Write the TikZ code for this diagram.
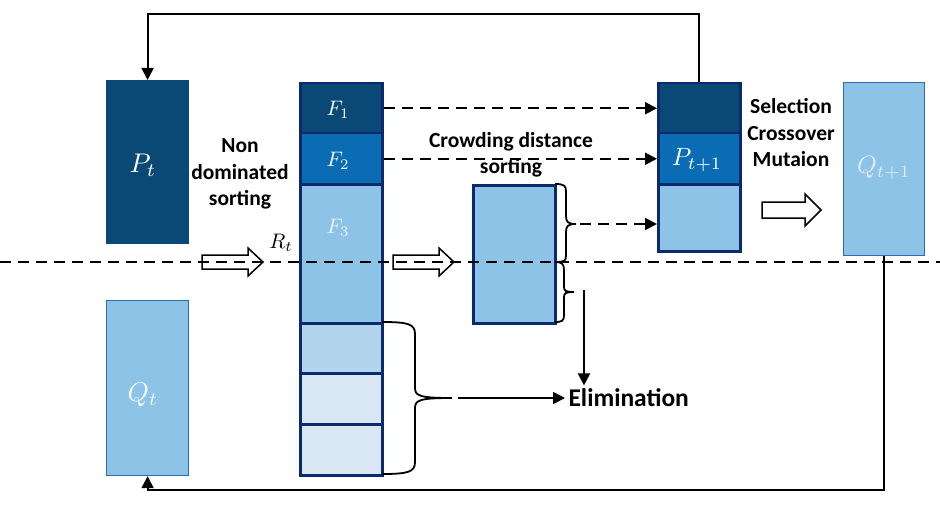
\documentclass[tikz,border=0pt]{standalone}
\usepackage{graphicx}
\usepackage{fontspec}
\setmainfont{Carlito}
\usetikzlibrary{arrows.meta}
\definecolor{navyf}{HTML}{0A4975}
\definecolor{midf}{HTML}{0A6DB3}
\definecolor{lightf}{HTML}{8CC3E7}
\definecolor{lighterf}{HTML}{B2D4ED}
\definecolor{palef}{HTML}{D9E7F5}
\definecolor{navyb}{HTML}{0B2A6E}
\definecolor{qborder}{HTML}{2E6BB0}
\begin{document}
\begin{tikzpicture}[x=1pt,y=-1pt,
  seg/.style={draw=navyb, line width=2.5pt, minimum width=82pt, anchor=north west, inner sep=0pt},
  solo/.style={line width=1.2pt, minimum width=82pt, anchor=north west, inner sep=0pt},
  lab/.style={font=\bfseries\fontsize{21.5}{26.5}\selectfont, align=center, text=black},
  mlab/.style={inner sep=0pt},
  conn/.style={line width=1.8pt, -{Triangle[length=12pt,width=12pt]}},
  dconn/.style={line width=2pt, dash pattern=on 11pt off 7pt, -{Triangle[length=12pt,width=12pt]}},
  hollow/.style={draw=black, line width=1.5pt, line join=miter},
  bracestyle/.style={draw=black, line width=1.8pt}
]
\useasboundingbox (0,0) rectangle (940,516);

% P_t and Q_t
\node[solo, draw=navyf, fill=navyf, minimum height=163pt] (pt) at (106,80) {};
\node[solo, draw=qborder, fill=lightf, minimum height=175pt] (qt) at (106,300) {};
\node[mlab, text=white] (ptl) at (143,165) {\scalebox{2.7}{$P_t$}};
\node[mlab, text=white!90!lightf] (qtl) at (143,395) {\scalebox{2.7}{$Q_t$}};

% R_t stack
\node[seg, fill=navyf, minimum height=50pt] (f1) at (299,82) {};
\node[seg, fill=midf, minimum height=51pt] (f2) at (299,132) {};
\node[seg, fill=lightf, minimum height=139pt] (f3) at (299,183) {};
\node[seg, fill=lighterf, minimum height=50pt] (r4) at (299,322) {};
\node[seg, fill=palef, minimum height=51pt] (r5) at (299,372) {};
\node[seg, fill=palef, minimum height=51pt] (r6) at (299,423) {};
\node[mlab, text=white] (f1l) at (338,110) {\scalebox{2.1}{$F_1$}};
\node[mlab, text=white] (f2l) at (338,161) {\scalebox{2.1}{$F_2$}};
\node[mlab, text=white!85!lightf] (f3l) at (338,228) {\scalebox{2.1}{$F_3$}};
\node[mlab, text=black] (rtl) at (281,243) {\scalebox{2.1}{$R_t$}};

% crowding distance box
\node[seg, fill=lightf, minimum height=138pt] (cd) at (472,184) {};

% P_{t+1} stack
\node[seg, fill=navyf, minimum height=50pt] (pa) at (657,82) {};
\node[seg, fill=midf, minimum height=51pt] (pb) at (657,132) {};
\node[seg, fill=lightf, minimum height=67pt] (pc) at (657,183) {};
\node[mlab, text=white] (pbl) at (697,160) {\scalebox{2.5}{$P_{t+1}$}};

% Q_{t+1}
\node[solo, draw=qborder, fill=lightf, minimum height=173pt, minimum width=81pt] (qt1) at (843,82) {};
\node[mlab, text=palef!80!white] (qt1l) at (884,168) {\scalebox{2.5}{$Q_{t+1}$}};

% dashed separator
\draw[line width=2pt, dash pattern=on 11pt off 7pt] (0,262) -- (940,262);

% texts
\node[lab] (nds) at (240,174) {Non\\dominated\\sorting};
\node[lab] (cds) at (511,155) {Crowding distance\\sorting};
\node[lab] (scm) at (791,133) {Selection\\Crossover\\Mutaion};
\node[lab, font=\bfseries\fontsize{25.5}{30}\selectfont, anchor=west] (elim) at (565,398) {Elimination};

% hollow arrows
\draw[hollow] (202,255) -- (248,255) -- (248,248) -- (263,262) -- (248,276) -- (248,269) -- (202,269) -- cycle;
\draw[hollow] (393,255) -- (439,255) -- (439,248) -- (454,262) -- (439,276) -- (439,269) -- (393,269) -- cycle;
\draw[hollow] (762,202) -- (805,202) -- (805,194) -- (821,210) -- (805,226) -- (805,218) -- (762,218) -- cycle;

% braces
\draw[bracestyle] (555,184) .. controls (565,184) and (566,186) .. (566,192) -- (566,216) .. controls (566,222) and (568,224) .. (576,224)
  .. controls (568,224) and (566,226) .. (566,232) -- (566,255) .. controls (566,261) and (565,262) .. (555,262);
\draw[bracestyle] (555,262) .. controls (562,262) and (564,264) .. (564,270) -- (564,287) .. controls (564,291) and (566,292) .. (574,292)
  .. controls (566,292) and (564,293) .. (564,297) -- (564,315) .. controls (564,321) and (562,322) .. (555,322);
\draw[bracestyle] (382,322) .. controls (408,322) and (415,324) .. (415,334) -- (415,388) .. controls (415,396) and (420,398) .. (452,398)
  .. controls (420,398) and (415,400) .. (415,408) -- (415,462) .. controls (415,472) and (408,474) .. (382,474);
\coordinate (btip) at (580,224);
\coordinate (etip) at (584,290);
\coordinate (bigtip) at (458,398);

% dashed connectors
\draw[dconn] (f1.east) -- (f1.east -| pa.west);
\draw[dconn] (f2.east) -- (f2.east -| pb.west);
\draw[dconn] (btip) -- (btip -| pc.west);

% elimination connectors
\draw[conn] (etip) -- (etip |- elim.north);
\draw[conn] (bigtip) -- (elim.west);

% feedback loops
\draw[conn] (pa.north) -- (pa.north |- 0,14) -- (pt.north |- 0,14) -- (pt.north);
\draw[conn] (qt1.south) -- (qt1.south |- 0,490) -- (qt.south |- 0,490) -- (qt.south);
\end{tikzpicture}
\end{document}
